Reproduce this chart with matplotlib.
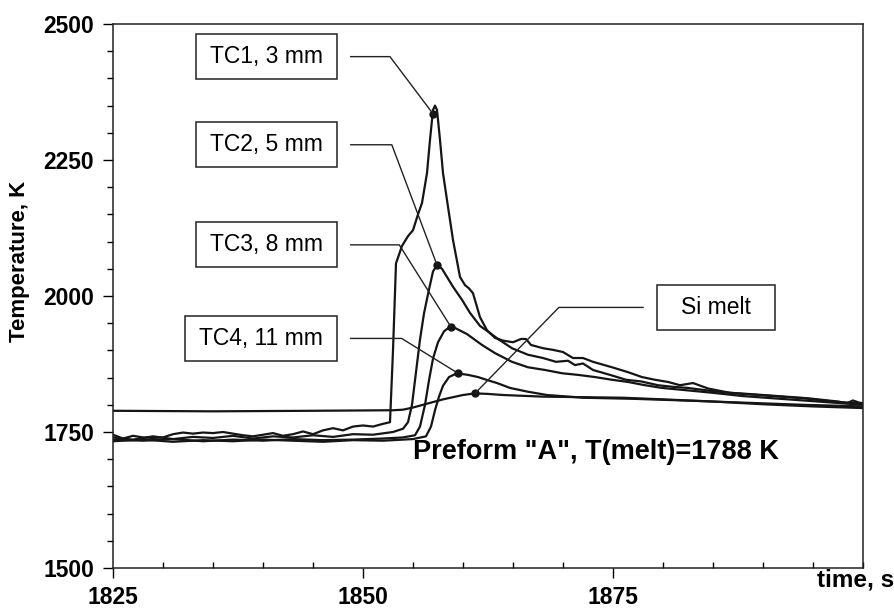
import numpy as np
import matplotlib
matplotlib.use('Agg')
import matplotlib.pyplot as plt
from matplotlib.ticker import MultipleLocator

plt.rcParams['font.family'] = ['Liberation Sans', 'DejaVu Sans']

# thermocouple traces (time s, temperature K)
tc1_t = [1825, 1826, 1827, 1828, 1829, 1830, 1831, 1832, 1833, 1834, 1835, 1836, 1837, 1838,
         1839, 1840, 1841, 1842, 1843, 1844, 1845, 1846, 1847, 1848, 1849, 1850, 1851, 1852,
         1852.7, 1853.0, 1853.3, 1853.9, 1854.5, 1855.0, 1855.5, 1855.9, 1856.4, 1856.7, 1857.0,
         1857.2, 1857.4, 1857.7, 1858.0, 1858.5, 1859.0, 1859.7, 1860.2, 1860.6, 1861.0, 1861.7,
         1862.4, 1863.2, 1864.0, 1865.0, 1865.8, 1866.3, 1866.8, 1868.0, 1869.0, 1870.0, 1871.0,
         1872.0, 1873.0, 1874.9, 1876.5, 1877.9, 1879.2, 1880.5, 1881.7, 1883.0, 1884.5, 1886.7,
         1888.5, 1890.0, 1891.5, 1893.0, 1894.5, 1896.0, 1897.5, 1898.4, 1899.0, 1899.6, 1900]
tc1_T = [1745, 1738, 1743, 1740, 1739, 1740, 1746, 1749, 1747, 1749, 1748, 1750, 1747, 1744,
         1742, 1745, 1748, 1743, 1746, 1751, 1746, 1753, 1757, 1753, 1760, 1762, 1760, 1765,
         1768, 1900, 2060, 2092, 2110, 2121, 2150, 2171, 2226, 2287, 2342,
         2350, 2342, 2287, 2226, 2164, 2103, 2035, 2020, 2014, 2005, 1961,
         1937, 1923, 1918, 1915, 1921, 1921, 1910, 1904, 1901, 1897, 1886,
         1886, 1879, 1869, 1860, 1851, 1846, 1842, 1836, 1840, 1830, 1822,
         1820, 1818, 1816, 1814, 1812, 1809, 1806, 1803, 1808, 1804, 1803]

tc2_t = [1825, 1827, 1829, 1831, 1833, 1835, 1837, 1839, 1841, 1843, 1845, 1847, 1849, 1851,
         1853, 1854.0, 1854.5, 1854.9, 1855.3, 1855.7, 1856.1, 1856.6, 1857.0, 1857.4, 1857.9,
         1858.4, 1859.0, 1859.9, 1860.7, 1861.7, 1862.7, 1863.5, 1864.9, 1866.5, 1868.0, 1869.3,
         1870.5, 1871.2, 1872.0, 1873.0, 1874.7, 1876.3, 1877.8, 1879.5, 1881.0, 1882.5, 1885.0,
         1888.0, 1891.0, 1894.0, 1897.0, 1900]
tc2_T = [1740, 1736, 1742, 1737, 1741, 1739, 1743, 1738, 1742, 1740, 1744, 1741, 1746, 1745,
         1750, 1756, 1768, 1800, 1860, 1920, 1968, 2012, 2045, 2057, 2050,
         2035, 2017, 1993, 1969, 1945, 1932, 1921, 1904, 1892, 1886, 1879,
         1881, 1873, 1876, 1864, 1855, 1846, 1843, 1836, 1833, 1831, 1825,
         1820, 1816, 1812, 1806, 1802]

tc3_t = [1825, 1828, 1831, 1834, 1837, 1840, 1843, 1846, 1849, 1852, 1854, 1855.2, 1855.7,
         1856.2, 1856.6, 1857.0, 1857.5, 1858.1, 1858.8, 1860.4, 1861.9, 1863.2, 1864.9, 1866.5,
         1868.2, 1869.9, 1871.5, 1873.2, 1874.9, 1876.5, 1878.2, 1879.9, 1882.2, 1885.0, 1888.0,
         1891.0, 1894.0, 1897.0, 1900]
tc3_T = [1736, 1734, 1737, 1733, 1736, 1734, 1737, 1735, 1736, 1738, 1740, 1744, 1760,
         1800, 1845, 1885, 1915, 1935, 1945, 1930, 1910, 1895, 1879, 1869,
         1864, 1858, 1855, 1851, 1846, 1842, 1836, 1831, 1827, 1822, 1816,
         1812, 1808, 1804, 1800]

tc4_t = [1825, 1828, 1831, 1834, 1837, 1840, 1843, 1846, 1849, 1852, 1855, 1856.3, 1856.8,
         1857.2, 1857.6, 1858.0, 1858.6, 1859.4, 1860.5, 1861.5, 1862.5, 1863.4, 1864.7, 1866.5,
         1868.4, 1872.0, 1877.0, 1882.0, 1888.0, 1894.0, 1900]
tc4_T = [1733, 1736, 1732, 1735, 1733, 1736, 1734, 1732, 1735, 1734, 1737, 1742, 1760,
         1790, 1815, 1835, 1851, 1858, 1855, 1851, 1845, 1840, 1831, 1824,
         1818, 1813, 1811, 1808, 1804, 1800, 1797]

si_t = [1825, 1835, 1845, 1853, 1854, 1855, 1856, 1857, 1858, 1859, 1860, 1861.2, 1862.5,
        1864, 1868, 1872, 1876, 1880, 1885, 1890, 1895, 1900]
si_T = [1789, 1788, 1789, 1790, 1791, 1795, 1800, 1805, 1810, 1814, 1818, 1821, 1820,
        1818, 1815, 1814, 1813, 1810, 1806, 1801, 1797, 1794]

# labels and the points their leaders point at
labels = ['TC1, 3 mm', 'TC2, 5 mm', 'TC3, 8 mm', 'TC4, 11 mm', 'Si melt']
mark_t = [1857.0, 1857.4, 1858.8, 1859.5, 1861.2]
mark_T = [2335, 2057, 1943, 1858, 1821]

fig = plt.figure(figsize=(8.95, 6.09), dpi=100)
ax = fig.add_axes([113 / 895, 1 - 568 / 609, 750 / 895, 544 / 609])

for t, T in [(tc1_t, tc1_T), (tc2_t, tc2_T), (tc3_t, tc3_T), (tc4_t, tc4_T), (si_t, si_T)]:
    ax.plot(t, T, color='#151515', lw=1.6)

ax.plot(mark_t, mark_T, 'o', color='#151515', ms=5, ls='none')

# label boxes with bent leader lines
tc_box = dict(boxstyle='square,pad=0.6', fc='white', ec='#222222', lw=1.1, mutation_aspect=0.8)
si_box = dict(boxstyle='square,pad=1.05', fc='white', ec='#222222', lw=1.1, mutation_aspect=0.47)
lab_pos = [(1846.0, 2440), (1846.0, 2278), (1846.0, 2094), (1846.0, 1922), (1885.3, 1979)]
lab_ha = ['right', 'right', 'right', 'right', 'center']
lead_ang = [-53, -69.4, -57.8, -31.7, 45.7]
for i, lab in enumerate(labels):
    ax.annotate(lab, xy=(mark_t[i], mark_T[i]), xytext=lab_pos[i], ha=lab_ha[i], va='center',
                fontsize=16.5, bbox=si_box if i == 4 else tc_box,
                arrowprops=dict(arrowstyle='-', color='#222222', lw=1.0, shrinkA=9.5, shrinkB=0,
                                connectionstyle='angle,angleA=0,angleB=%g,rad=0' % lead_ang[i]))

ax.text(1855, 1713, 'Preform "A", T(melt)=1788 K', fontsize=19.5, fontweight='bold',
        ha='left', va='center')

ax.set_xlim(1825, 1900)
ax.set_ylim(1500, 2500)
ax.set_xticks([1825, 1850, 1875])
ax.xaxis.set_minor_locator(MultipleLocator(5))
ax.yaxis.set_major_locator(MultipleLocator(250))
ax.yaxis.set_minor_locator(MultipleLocator(50))
ax.tick_params(axis='x', which='major', direction='out', length=7, width=1, pad=6)
ax.tick_params(axis='x', which='minor', direction='in', length=4, width=1)
ax.tick_params(axis='y', which='major', direction='out', length=7, width=1, pad=6.5)
ax.tick_params(axis='y', which='minor', direction='out', length=4, width=1)
for lbl in ax.get_xticklabels() + ax.get_yticklabels():
    lbl.set_fontsize(16.5)
    lbl.set_fontweight('bold')
for s in ax.spines.values():
    s.set_linewidth(1.1)
    s.set_color('#222222')

fig.text(20 / 895, 1 - 261 / 609, 'Temperature, K', rotation=90, fontsize=16,
         fontweight='bold', ha='center', va='center')
fig.text(817 / 895, 1 - 580 / 609, 'time, s', fontsize=17.5, fontweight='bold',
         ha='left', va='center')

fig.savefig('out.png', dpi=100)
